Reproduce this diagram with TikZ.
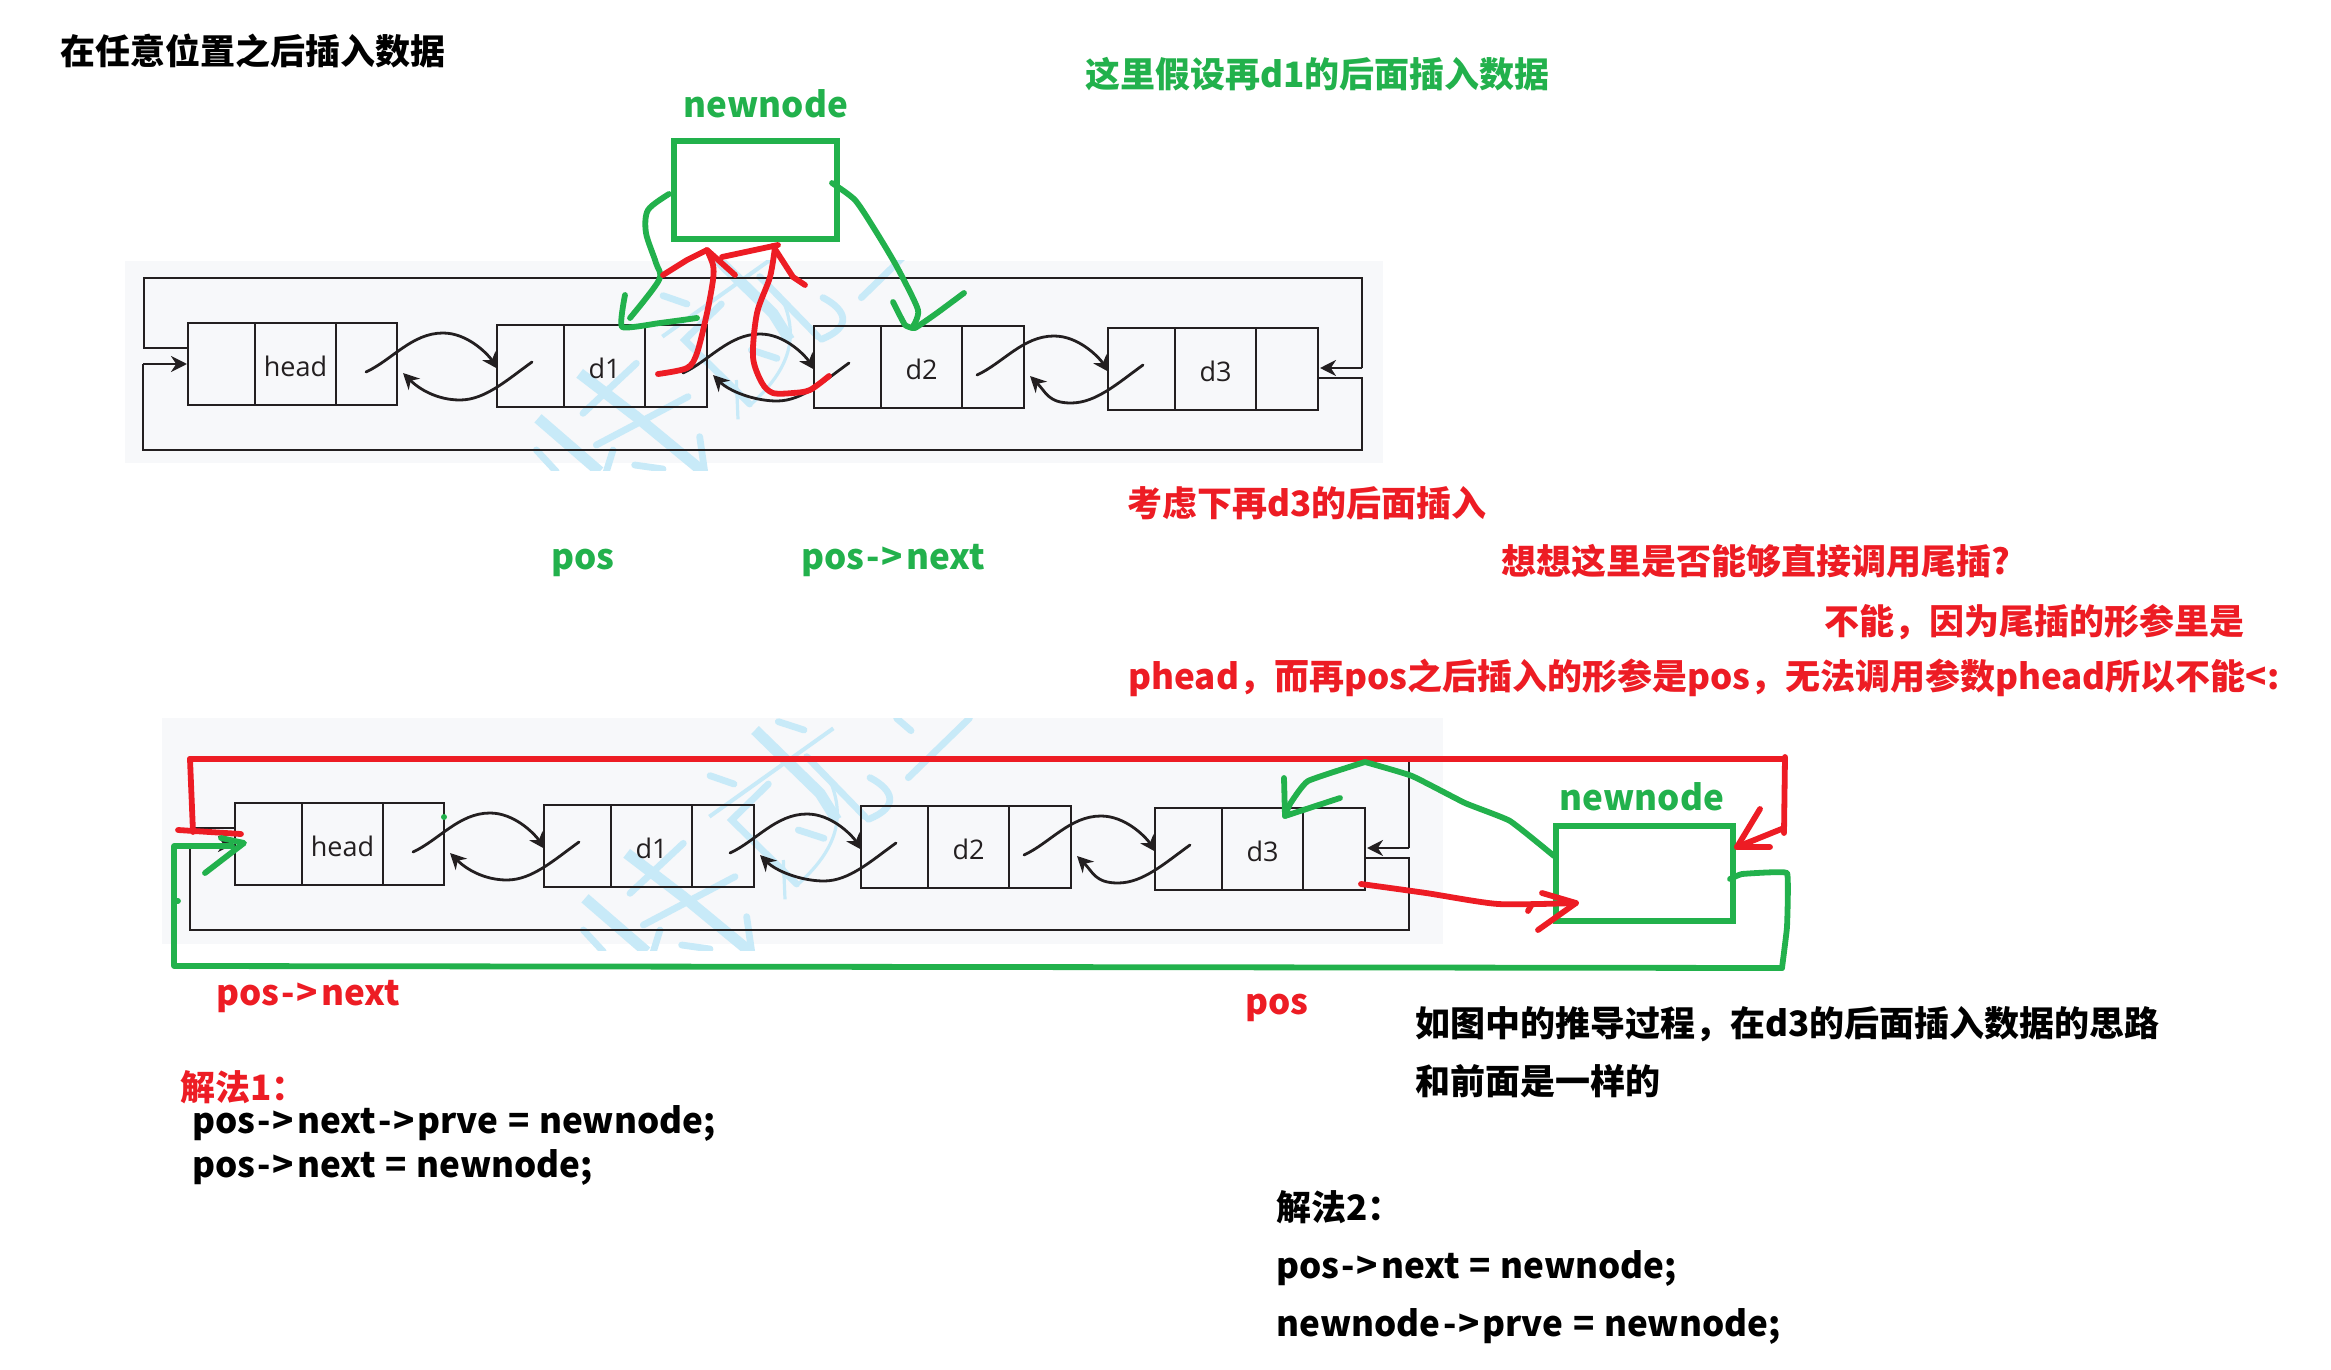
\documentclass[tikz,border=0pt]{standalone}
\usepackage{fontspec}
\setmainfont{Noto Sans CJK SC}
\newfontfamily\cellfont{Open Sans}
\usetikzlibrary{calc,arrows.meta}
\definecolor{inkgreen}{HTML}{22B14C}
\definecolor{inkred}{HTML}{ED1C24}
\definecolor{wire}{HTML}{231F20}
\definecolor{panelbg}{HTML}{F7F8FA}
\definecolor{wmblue}{HTML}{C8EAF8}
\newcommand{\arw}{\kern.07em-\kern.05em>\kern.08em}
\newcommand{\eqs}{\kern.05em\ =\ \kern.05em}
\tikzset{
  panel/.style={fill=panelbg,draw=none},
  cell/.style={draw=wire,line width=1.3pt,anchor=north west,inner sep=0pt,outer sep=0pt},
  cellline/.style={draw=wire,line width=1.3pt},
  wireline/.style={draw=wire,line width=1.3pt},
  wirearrow/.style={wireline,-{Stealth[length=8pt,width=8pt]}},
  linkcurve/.style={draw=wire,line width=1.4pt,line cap=round,-{Stealth[length=8pt,width=8pt]}},
  celltext/.style={font=\cellfont\fontsize{13.5}{17}\selectfont,text=wire,inner sep=0pt},
  txt/.style={font=\bfseries\fontsize{17.5}{21}\selectfont,anchor=base west,inner sep=0pt},
  greenbox/.style={draw=inkgreen,line width=3pt,anchor=north west,inner sep=0pt,outer sep=0pt},
  ink/.style={line width=2.9pt,line cap=round,line join=round},
  greenink/.style={ink,draw=inkgreen},
  redink/.style={ink,draw=inkred},
  wmthick/.style={draw=wmblue,line width=5.5pt},
  wmmid/.style={draw=wmblue,line width=3.4pt,line cap=round},
  wmthin/.style={draw=wmblue,line width=1.6pt},
}
% one list element: name, left, right, top, divider1, divider2, label, label y
\newcommand{\elem}[8]{%
  \node[cell,minimum width={(#3-#2)*0.5pt},minimum height=41pt] (#1) at (#2,#4) {};
  \draw[cellline] (#5,#4) -- (#5,#4+82);
  \draw[cellline] (#6,#4) -- (#6,#4+82);
  \node[celltext] (#1t) at ({(#5+#6)/2},#8) {#7};
}
\newcommand{\linkpair}[2]{%
  \draw[linkcurve] ($(#2.north west)+(-131,47)$) .. controls ($(#2.north west)+(-105,35)$) and ($(#2.north west)+(-85,8)$) .. ($(#2.north west)+(-54,8)$)
     .. controls ($(#2.north west)+(-30,8)$) and ($(#2.north west)+(-10,28)$) .. ($(#2.north west)+(1,44)$);
  \draw[linkcurve] ($(#2.north west)+(35,37)$) .. controls ($(#2.north west)+(10,55)$) and ($(#2.north west)+(-12,75)$) .. ($(#2.north west)+(-37,75)$)
     .. controls ($(#2.north west)+(-60,75)$) and ($(#1.north east)+(22,66)$) .. ($(#1.north east)+(6,50)$);
}
\newcommand{\wmark}[3]{%
  \begin{scope}[shift={(#1,#2)},x=0.16667pt,y=-0.16667pt]
    \clip (0,#3) rectangle (1500,1000);
    \clip (0,0) rectangle (1500,720);
    \draw[wmthick] (230,430) -- (400,560) -- (600,725);
    \draw[wmthick] (105,565) -- (290,725);
    \draw[wmmid] (400,400) -- (240,550);
    \draw[wmmid] (555,500) -- (280,645);
    \draw[wmmid] (100,660) -- (160,725);
    \draw[wmmid] (590,620) -- (605,725);
    \draw[wmmid] (395,705) -- (480,717);
    \draw[wmmid] (330,660) -- (310,725);
    \draw[wmthick] (615,60) -- (810,250) -- (860,330);
    \draw[wmmid] (770,140) -- (945,320);
    \draw[wmthin,line width=2pt] (850,55) -- (478,320);
    \draw[wmmid] (685,35) -- (762,60);
    \draw[wmmid] (1040,25) -- (1083,62);
    \draw[wmmid] (1258,25) -- (1075,203);
    \draw[wmmid] (480,197) -- (552,222);
    \draw[wmmid] (655,222) -- (545,330) -- (740,522);
    \draw[wmthin] (700,450) -- (705,568);
    \draw[wmthin] (835,200) .. controls (880,300) and (880,400) .. (745,522);
    \draw[wmmid] (745,360) -- (822,385);
    \draw[wmmid] (960,203) .. controls (1030,240) and (1050,290) .. (955,328);
  \end{scope}
}
\newcommand{\listpanel}[3]{%
  \begin{scope}[shift={(#2,#3)}]
    \elem{h#1}{188}{397}{323}{255}{336}{head}{366}
    \elem{a#1}{497}{707}{325}{564}{645}{d1}{368}
    \elem{b#1}{814}{1024}{326}{881}{962}{d2}{369}
    \elem{c#1}{1108}{1318}{328}{1175}{1256}{d3}{371}
    \linkpair{h#1}{a#1}
    \linkpair{a#1}{b#1}
    \linkpair{b#1}{c#1}
    \draw[wireline] ($(h#1.north west)+(0,25)$) -- (144,348) -- (144,278) -- (1362,278) -- (1362,368);
    \draw[wirearrow] (1362,368) -- ($(c#1.north east)+(2,40)$);
    \draw[wireline] ($(c#1.north east)+(0,50)$) -- (1362,378) -- (1362,450) -- (143,450) -- (143,364);
    \draw[wirearrow] (143,364) -- ($(h#1.north west)+(-1,41)$);
  \end{scope}
}
\begin{document}
\begin{tikzpicture}[x=0.5pt,y=-0.5pt]
\useasboundingbox (0,0) rectangle (2331,1370);
\fill[white] (0,0) rectangle (2331,1370);

% panels
\path[panel] (125,261) rectangle (1383,463);
\path[panel] (162,718) rectangle (1443,944);
\wmark{503}{230}{90}
\wmark{550}{710}{25}
\listpanel{x}{0}{0}
\listpanel{y}{47}{480}

% texts
\node[txt] (title) at (60,65) {在任意位置之后插入数据};
\node[txt,text=inkgreen] (hint) at (1085,88) {这里假设再d1的后面插入数据};
\node[txt,text=inkgreen,anchor=base] (nn1) at (766,118) {newnode};
\node[txt,text=inkgreen] (pos1) at (551,569) {pos};
\node[txt,text=inkgreen] (next1) at (801,569) {pos\arw next};
\node[txt,text=inkred] (r1) at (1127,516) {考虑下再d3的后面插入};
\node[txt,text=inkred] (r2) at (1501,574) {想想这里是否能够直接调用尾插?};
\node[txt,text=inkred] (r3) at (1824,634) {不能，因为尾插的形参里是};
\node[txt,text=inkred] (r4) at (1128,689) {phead，而再pos之后插入的形参是pos，无法调用参数phead所以不能<:};
\node[txt,text=inkgreen,anchor=base] (nn2) at (1642,810) {newnode};
\node[txt,text=inkred] (next2) at (216,1005) {pos\arw next};
\node[txt,text=inkred] (pos2) at (1245,1014) {pos};
\node[txt,text=inkred] (s1) at (180,1100) {解法1：};
\node[txt] (c1) at (192,1133) {pos\arw next\arw prve\eqs newnode;};
\node[txt] (c2) at (192,1177) {pos\arw next\eqs newnode;};
\node[txt] (b1) at (1415,1036) {如图中的推导过程，在d3的后面插入数据的思路};
\node[txt] (b2) at (1415,1094) {和前面是一样的};
\node[txt] (s2) at (1276,1220) {解法2：};
\node[txt] (c3) at (1276,1278) {pos\arw next\eqs newnode;};
\node[txt] (c4) at (1276,1336) {newnode\arw prve\eqs newnode;};

% newnode boxes
\node[greenbox,minimum width=81.5pt,minimum height=49pt] (boxA) at (674,141) {};
\node[greenbox,minimum width=88.5pt,minimum height=47.5pt] (boxB) at (1556,826) {};

% top ink
\draw[greenink] plot[smooth,tension=.5] coordinates {(669,194) (648,210) (646,233) (656,263) (659,280) (630,318)};
\draw[greenink] plot[smooth,tension=.3] coordinates {(625,295) (622,327) (660,323) (697,318)};
\draw[redink] plot[smooth,tension=.5] coordinates {(658,374) (687,368) (697,353) (707,313) (713,280) (713,265) (707,250)};
\draw[redink] (663,275) -- (687,260) -- (707,250) -- (735,275);
\draw[redink] (722,257) -- (778,245);
\draw[redink] plot[smooth,tension=.5] coordinates {(829,376) (810,390) (793,393) (773,393) (762,383) (753,357) (757,313) (770,277) (775,247)};
\draw[redink] (773,246) -- (793,277) -- (805,285);
\draw[greenink] plot[smooth,tension=.4] coordinates {(832,183) (855,200) (875,230) (897,267) (918,310) (912,328)};
\draw[greenink] plot[smooth,tension=.2] coordinates {(893,302) (905,325) (915,328) (937,313) (964,293)};

% bottom ink
\draw[inkred,line width=3pt,line cap=round] (190,759) -- (1785,759);
\draw[redink] (190,759) -- (193,832);
\draw[redink] (178,830) -- (241,834);
\draw[redink] (1785,757) -- (1784,833);
\draw[redink] (1784,828) -- (1737,847) -- (1770,847);
\draw[redink] (1737,847) -- (1760,809);
\draw[greenink] (232,846) -- (174,846) -- (174,966) -- (1782,968);
\draw[greenink] (221,838) -- (244,843) -- (205,873);
\draw[greenink] (178,901) -- (174,901);
\fill[inkgreen] (444,817) circle (3);
\draw[greenink] plot[smooth,tension=.15] coordinates {(1730,879) (1742,874) (1787,873) (1787,927) (1782,968)};
\draw[greenink] plot[smooth,tension=.25] coordinates {(1554,856) (1510,821) (1465,803) (1412,776) (1365,762)};
\draw[greenink] plot[smooth,tension=.25] coordinates {(1365,762) (1308,781) (1290,804) (1285,816)};
\draw[greenink] (1284,778) -- (1285,816) -- (1340,798);
\draw[redink] plot[smooth,tension=.4] coordinates {(1361,884) (1426,893) (1498,904) (1576,903)};
\draw[redink] (1542,893) -- (1576,903) -- (1538,930);
\draw[redink] (1528,911) -- (1532,904);
\end{tikzpicture}
\end{document}
